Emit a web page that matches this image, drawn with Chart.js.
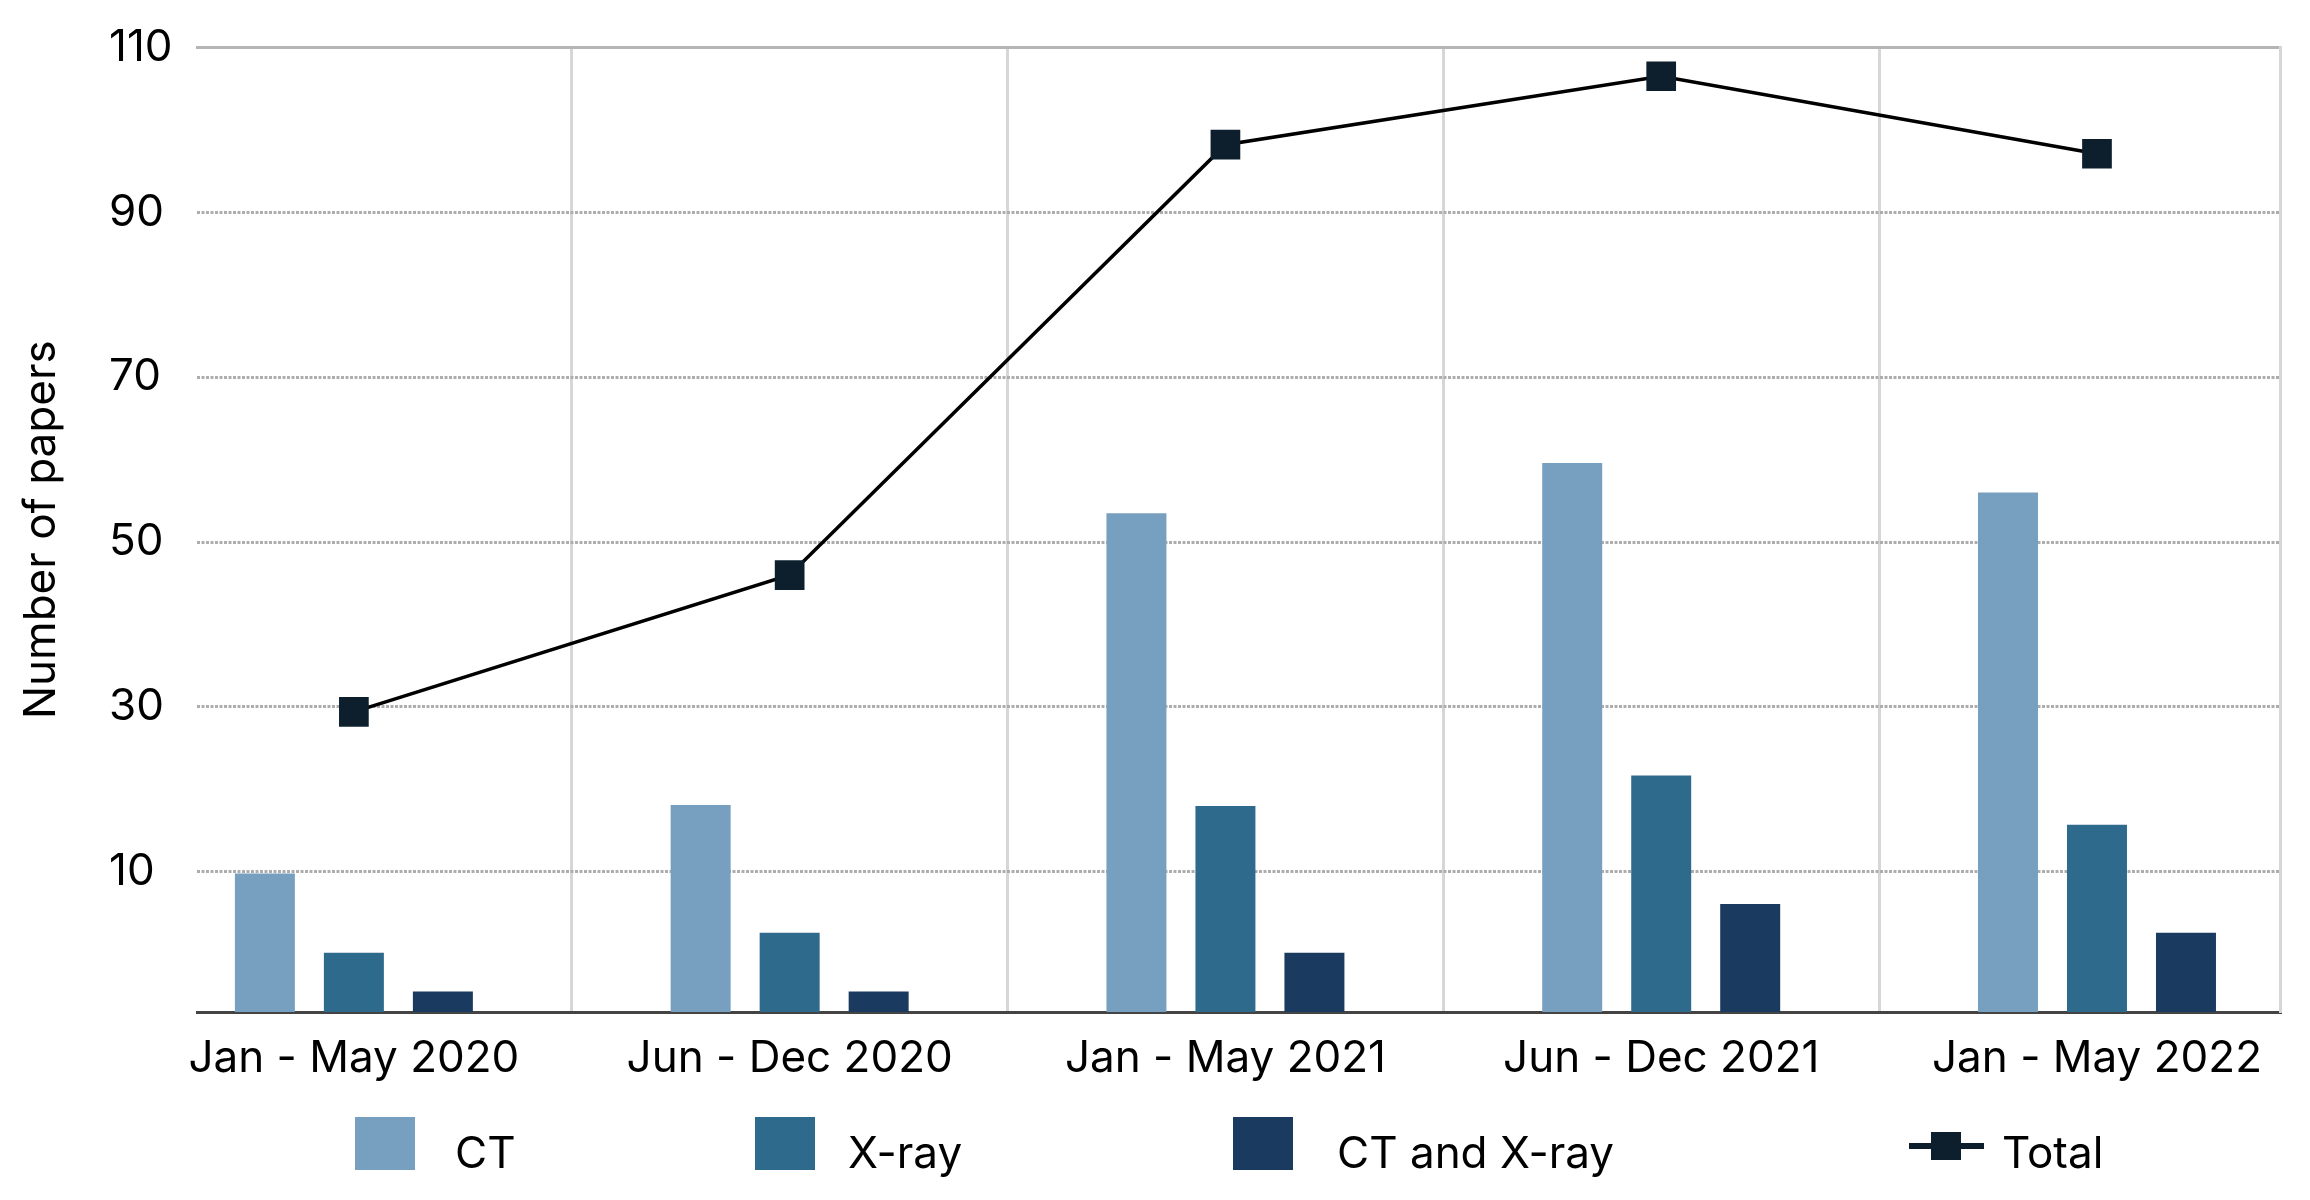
<!DOCTYPE html>
<html>
<head>
<meta charset="utf-8">
<script src="https://cdn.jsdelivr.net/npm/chart.js@4.4.1/dist/chart.umd.min.js"></script>
<style>
  html, body { margin: 0; padding: 0; background: #ffffff; }
  canvas { display: block; }
</style>
</head>
<body>
<canvas id="chart" width="2310" height="1200"></canvas>
<script>
// ---- data ----
const categories = ['Jan - May 2020', 'Jun - Dec 2020', 'Jan - May 2021', 'Jun - Dec 2021', 'Jan - May 2022'];
const ctValues = [9.8, 18.1, 53.5, 59.6, 56.0];
const xrayValues = [0.2, 2.6, 18.0, 21.7, 15.7];
const ctAndXrayValues = [-4.5, -4.5, 0.2, 6.1, 2.6];
const totalValues = [29.4, 46.0, 98.2, 106.5, 97.1];
const yTickValues = [10, 30, 50, 70, 90, 110];
const seriesNames = ['CT', 'X-ray', 'CT and X-ray', 'Total'];
const seriesColors = ['#779fbf', '#2e6a8b', '#1b3a5f', '#0d1f2d'];
const yMin = -7;
const yMax = 110;

const FONT = { family: 'Inter', size: 44 };
const toPoints = arr => arr.map((v, i) => ({ x: i, y: v }));

// legend layout (pixel placement only)
const legendLayout = [
  { box: 355, text: 455 },
  { box: 755, text: 848 },
  { box: 1233, text: 1337 },
  { box: 1909, text: 2002 }
];

const customLegend = {
  id: 'customLegend',
  afterDraw(chart, args, opts) {
    const ctx = chart.ctx;
    ctx.save();
    ctx.font = FONT.size + 'px ' + FONT.family;
    ctx.textBaseline = 'alphabetic';
    ctx.textAlign = 'left';
    chart.data.datasets.forEach((ds, i) => {
      const L = opts.items[i];
      if (ds.type === 'line') {
        ctx.fillStyle = ds.pointBackgroundColor;
        ctx.fillRect(L.box, 1143, 75, 6);
        ctx.fillRect(L.box + 22, 1132, 30, 28);
      } else {
        ctx.fillStyle = ds.backgroundColor;
        ctx.fillRect(L.box, 1117, 60, 53);
      }
      ctx.fillStyle = '#000000';
      ctx.fillText(ds.label, L.text, 1168);
    });
    ctx.restore();
  }
};

new Chart(document.getElementById('chart'), {
  data: {
    datasets: [
      { type: 'bar', label: seriesNames[0], data: toPoints(ctValues), backgroundColor: seriesColors[0], base: yMin, order: 1 },
      { type: 'bar', label: seriesNames[1], data: toPoints(xrayValues), backgroundColor: seriesColors[1], base: yMin, order: 1 },
      { type: 'bar', label: seriesNames[2], data: toPoints(ctAndXrayValues), backgroundColor: seriesColors[2], base: yMin, order: 1 },
      {
        type: 'line', label: seriesNames[3], data: toPoints(totalValues),
        borderColor: '#000000', borderWidth: 3.5, tension: 0,
        pointStyle: 'rect', pointRadius: 21, pointHoverRadius: 21,
        pointBackgroundColor: seriesColors[3], pointBorderWidth: 0, order: 0
      }
    ]
  },
  options: {
    responsive: false,
    devicePixelRatio: 1,
    animation: false,
    layout: { padding: { top: 41, right: 30, bottom: 110, left: 0 } },
    datasets: { bar: { categoryPercentage: 0.6127, barPercentage: 0.674 } },
    plugins: {
      legend: { display: false },
      tooltip: { enabled: false },
      customLegend: { items: legendLayout }
    },
    scales: {
      x: {
        type: 'linear', position: 'bottom', min: -0.36, max: 4.42, offset: false,
        afterBuildTicks: s => { s.ticks = categories.map((_, i) => ({ value: i })); },
        afterFit: s => { s.height = 78; },
        ticks: {
          callback: v => categories[Math.round(v)],
          font: FONT, color: '#000000', padding: 20, maxRotation: 0, autoSkip: false
        },
        grid: { offset: true, color: '#d6d6d6', lineWidth: 3, drawTicks: false },
        border: { display: true, color: '#444444', width: 3 }
      },
      xTop: {
        type: 'linear', position: 'top', display: true, offset: false,
        afterFit: s => { s.height = 0; },
        ticks: { display: false },
        grid: { display: false, drawTicks: false },
        border: { display: true, color: '#b5b5b5', width: 3 }
      },
      y: {
        type: 'linear', position: 'left', min: yMin, max: yMax, weight: 0,
        afterBuildTicks: s => { s.ticks = yTickValues.map(v => ({ value: v })); },
        afterFit: s => { s.width = 88; },
        ticks: { crossAlign: 'far', font: FONT, color: '#000000', padding: 21 },
        grid: {
          color: c => (c.tick && c.tick.value === yMax) ? 'rgba(0,0,0,0)' : '#adadad',
          lineWidth: 3, drawTicks: false
        },
        border: { display: false, dash: [3, 1.5] }
      },
      yTitle: {
        type: 'linear', position: 'left', weight: 1, display: true,
        afterFit: s => { s.width = 109; },
        ticks: { display: false },
        grid: { display: false, drawTicks: false },
        border: { display: false },
        title: { display: true, text: 'Number of papers', font: FONT, color: '#000000', padding: { top: 15, bottom: 0 } }
      },
      yRight: {
        type: 'linear', position: 'right', display: true,
        afterFit: s => { s.width = 0; },
        ticks: { display: false },
        grid: { display: false, drawTicks: false },
        border: { display: true, color: '#d6d6d6', width: 3 }
      }
    }
  },
  plugins: [customLegend]
});
</script>
</body>
</html>
